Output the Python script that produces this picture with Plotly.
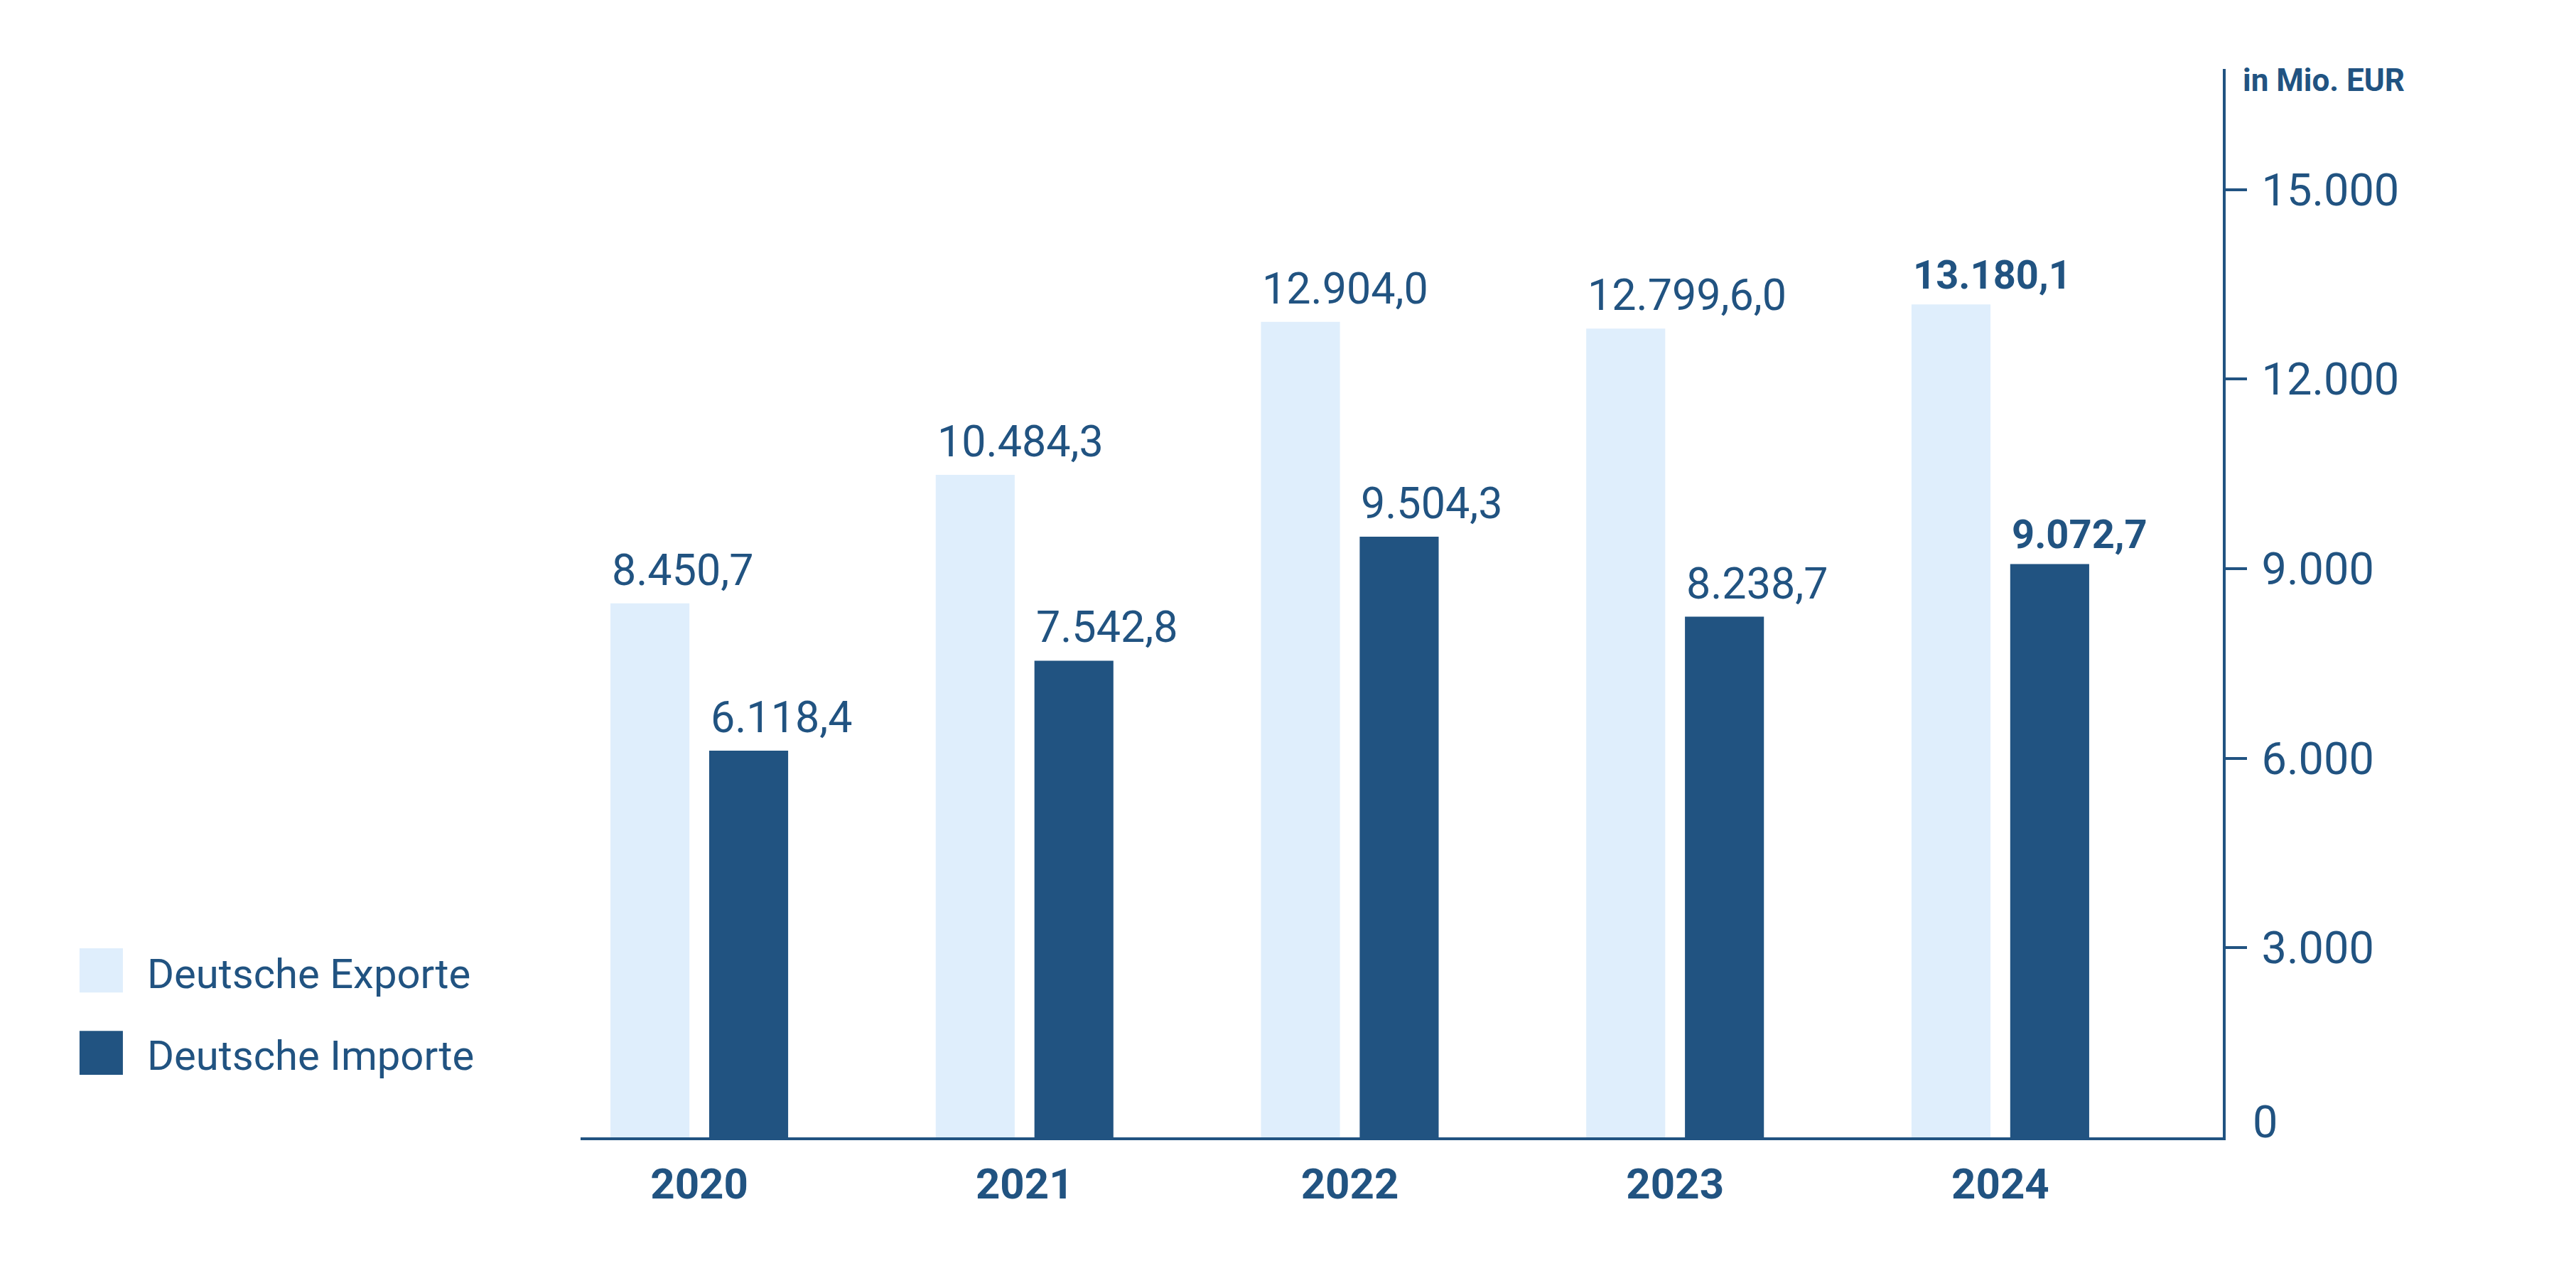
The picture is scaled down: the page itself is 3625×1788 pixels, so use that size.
import plotly.graph_objects as go

# values in Mio. EUR
years = ["2020", "2021", "2022", "2023", "2024"]
exports = [8450.7, 10484.3, 12904.0, 12799.6, 13180.1]
imports = [6118.4, 7542.8, 9504.3, 8238.7, 9072.7]
export_labels = ["8.450,7", "10.484,3", "12.904,0", "12.799,6,0", "13.180,1"]
import_labels = ["6.118,4", "7.542,8", "9.504,3", "8.238,7", "9.072,7"]
y_ticks = [3000, 6000, 9000, 12000, 15000]
y_tick_labels = ["3.000", "6.000", "9.000", "12.000", "15.000"]

BLUE = "#215381"
LIGHT = "#DFEEFC"
FONT = "Roboto"

BARGAP = 0.393
GROUPGAP = 0.2

fig = go.Figure()
fig.add_trace(go.Bar(name="Deutsche Exporte", x=years, y=exports,
                     marker=dict(color=LIGHT, line=dict(width=0))))
fig.add_trace(go.Bar(name="Deutsche Importe", x=years, y=imports,
                     marker=dict(color=BLUE, line=dict(width=0))))

# value labels sit left-aligned on top of each bar
slot = (1 - BARGAP) / 2
bar_w = slot * (1 - GROUPGAP)
annotations = []
for i in range(len(years)):
    last = i == len(years) - 1
    for vals, labels, off in ((exports, export_labels, -slot / 2), (imports, import_labels, slot / 2)):
        txt = labels[i]
        size = 61
        if last:
            txt = "<b>" + txt + "</b>"
            size = 56
        annotations.append(dict(
            x=i + off - bar_w / 2, y=vals[i], xref="x", yref="y",
            text=txt, showarrow=False, xanchor="left", yanchor="bottom",
            yshift=9 if not last else 6, font=dict(family=FONT, size=size, color=BLUE)))

# zero label sits on the baseline
annotations.append(dict(
    x=1, y=0, xref="paper", yref="y", text="0", showarrow=False,
    xanchor="left", yanchor="bottom", xshift=40, yshift=-17,
    font=dict(family=FONT, size=63, color=BLUE)))

# unit label
annotations.append(dict(
    x=1, y=1, xref="paper", yref="paper", text="<b>in Mio. EUR</b>", showarrow=False,
    xanchor="left", yanchor="middle", xshift=26, yshift=-16,
    font=dict(family=FONT, size=44, color=BLUE)))

# legend drawn by hand
shapes = []
legend_items = [("Deutsche Exporte", LIGHT, 0.1356, 0.1769, 0.1529),
                ("Deutsche Importe", BLUE, 0.0585, 0.0997, 0.0765)]
for name, col, y0, y1, ym in legend_items:
    shapes.append(dict(type="rect", xref="paper", yref="paper",
                       x0=-0.3051, x1=-0.2787, y0=y0, y1=y1,
                       fillcolor=col, line=dict(width=0)))
    annotations.append(dict(
        x=-0.2648, y=ym, xref="paper", yref="paper", text=name, showarrow=False,
        xanchor="left", yanchor="middle",
        font=dict(family=FONT, size=58, color=BLUE)))

fig.update_layout(
    width=3625,
    height=1788,
    margin=dict(l=817, r=497, t=97, b=188),
    paper_bgcolor="white",
    plot_bgcolor="white",
    barmode="group",
    bargap=BARGAP,
    bargroupgap=GROUPGAP,
    showlegend=False,
    annotations=annotations,
    shapes=shapes,
    font=dict(family=FONT, color=BLUE),
)
fig.update_xaxes(
    range=[-0.365, 4.684],
    showline=True, linecolor=BLUE, linewidth=4,
    ticks="", showgrid=False, zeroline=False,
    tickfont=dict(family=FONT, size=60, color=BLUE, weight="bold"),
    ticklabelstandoff=10,
)
fig.update_yaxes(
    range=[0, 16907], side="right",
    showline=True, linecolor=BLUE, linewidth=4,
    ticks="outside", ticklen=30, tickwidth=4, tickcolor=BLUE,
    tickvals=y_ticks, ticktext=y_tick_labels,
    showgrid=False, zeroline=False,
    tickfont=dict(family=FONT, size=63, color=BLUE),
    ticklabelstandoff=8,
)

# no default page margin around the figure, no modebar
fig.write_html("out.html", config={"displayModeBar": False},
               post_script="document.body.style.margin='0';")
